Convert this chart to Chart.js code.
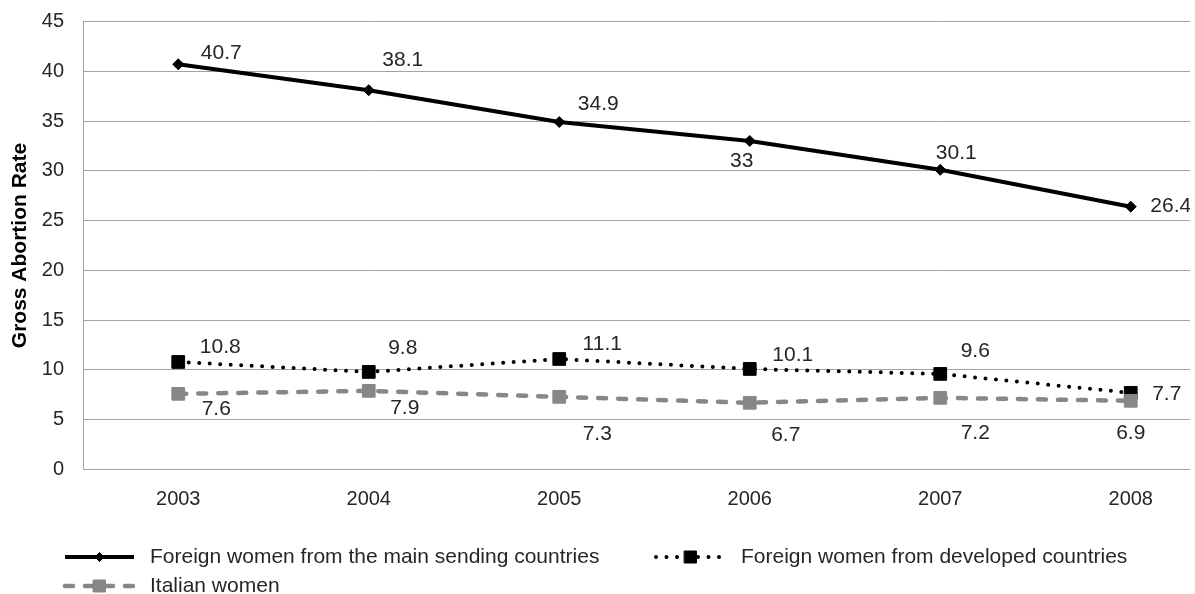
<!DOCTYPE html>
<html>
<head>
<meta charset="utf-8">
<script src="https://cdn.jsdelivr.net/npm/chart.js@4/dist/chart.umd.min.js"></script>
<style>
  html, body { margin: 0; padding: 0; background: #fff; overflow: hidden; }
  #wrap { width: 1190px; height: 594px; overflow: hidden; position: relative; }
  canvas { display: block; }
</style>
</head>
<body>
<div id="wrap"><canvas id="chart" width="1236" height="594"></canvas></div>
<script>
// Gross abortion rate by year and group of women
const years = ['2003', '2004', '2005', '2006', '2007', '2008'];
const sendingCountries = [40.7, 38.1, 34.9, 33, 30.1, 26.4];
const developedCountries = [10.8, 9.8, 11.1, 10.1, 9.6, 7.7];
const italianWomen = [7.6, 7.9, 7.3, 6.7, 7.2, 6.9];
const yTickValues = [0, 5, 10, 15, 20, 25, 30, 35, 40, 45];
const seriesNames = [
  'Foreign women from the main sending countries',
  'Foreign women from developed countries',
  'Italian women'
];
const axisTitle = 'Gross Abortion Rate';

const FONT = "'Liberation Sans', Arial, sans-serif";
const TEXT = '#262626';
const GRID = '#a3a3a3';

// where each value label sits relative to its point (dx, dy in px)
const labelOffsets = [
  [[43, -11], [34, -30], [39, -18], [-8, 20], [16, -17], [40, 0]],
  [[42, -15], [34, -24], [43, -15], [43, -14], [35, -23], [36, 1]],
  [[38, 15], [36, 17], [38, 37], [36, 32], [35, 35], [0, 32]]
];

const styles = [
  { color: '#000000', width: 4, dash: [], cap: 'butt', point: 'rectRot', radius: 5.5, legendRadius: 4.5 },
  { color: '#000000', width: 4, dash: [0, 10.5], cap: 'round', point: 'rect', radius: 9, legendRadius: 8.5 },
  { color: '#878787', width: 4.5, dash: [8, 12], cap: 'round', point: 'rect', radius: 9, legendRadius: 8.5 }
];

const valueLabels = {
  id: 'valueLabels',
  afterDatasetsDraw(chart) {
    const ctx = chart.ctx;
    ctx.save();
    ctx.font = '21px ' + FONT;
    ctx.fillStyle = TEXT;
    ctx.textAlign = 'center';
    ctx.textBaseline = 'middle';
    chart.data.datasets.forEach((ds, di) => {
      const meta = chart.getDatasetMeta(di);
      meta.data.forEach((pt, i) => {
        const off = labelOffsets[di][i];
        ctx.fillText(String(ds.data[i]), pt.x + off[0], pt.y + off[1]);
      });
    });
    ctx.restore();
  }
};

// legend with line samples, laid out in two rows under the plot
const sampleLegend = {
  id: 'sampleLegend',
  afterDraw(chart) {
    const ctx = chart.ctx;
    const entries = [
      { s: 0, x0: 65, x1: 134, tx: 150, y: 557 },
      { s: 1, x0: 656, x1: 725, tx: 741, y: 557 },
      { s: 2, x0: 65, x1: 134, tx: 150, y: 586 }
    ];
    ctx.save();
    entries.forEach(e => {
      const st = styles[e.s];
      ctx.beginPath();
      ctx.strokeStyle = st.color;
      ctx.lineWidth = st.width;
      ctx.lineCap = st.cap;
      ctx.setLineDash(st.dash);
      ctx.moveTo(e.x0, e.y);
      ctx.lineTo(e.x1, e.y);
      ctx.stroke();
      ctx.setLineDash([]);
      ctx.lineWidth = 1;
      Chart.helpers.drawPoint(ctx, {
        pointStyle: st.point, radius: st.legendRadius, borderWidth: 1, rotation: 0
      }, (e.x0 + e.x1) / 2, e.y);
      ctx.fillStyle = st.color;
      ctx.fill();
      ctx.font = '21px ' + FONT;
      ctx.fillStyle = TEXT;
      ctx.textAlign = 'left';
      ctx.textBaseline = 'middle';
      ctx.fillText(seriesNames[e.s], e.tx, e.y);
    });
    ctx.restore();
  }
};

const seriesData = [sendingCountries, developedCountries, italianWomen];
const drawOrder = [2, 1, 0];

new Chart(document.getElementById('chart'), {
  type: 'line',
  data: {
    labels: years,
    datasets: seriesData.map((d, i) => ({
      label: seriesNames[i],
      data: d,
      order: drawOrder[i],
      borderColor: styles[i].color,
      backgroundColor: styles[i].color,
      borderWidth: styles[i].width,
      borderDash: styles[i].dash,
      borderCapStyle: styles[i].cap,
      borderJoinStyle: 'round',
      pointStyle: styles[i].point,
      pointRadius: styles[i].radius,
      pointBorderWidth: 1,
      pointBackgroundColor: styles[i].color,
      pointBorderColor: styles[i].color,
      tension: 0,
      fill: false
    }))
  },
  options: {
    responsive: false,
    animation: false,
    events: [],
    layout: { padding: { top: 21.5, right: 0, bottom: 84.5, left: 0 } },
    plugins: { legend: { display: false }, tooltip: { enabled: false } },
    scales: {
      x: {
        type: 'category',
        offset: true,
        grid: { display: false },
        border: { display: true, color: GRID, width: 1 },
        ticks: { color: TEXT, font: { family: FONT, size: 20 }, padding: 10, maxRotation: 0 },
        afterFit(scale) {
          scale.height = 40;
          scale.paddingLeft = 0;
          scale.paddingRight = 0;
        }
      },
      y: {
        min: 0,
        max: 45,
        afterBuildTicks(scale) { scale.ticks = yTickValues.map(v => ({ value: v })); },
        grid: { color: GRID, lineWidth: 1, drawTicks: false },
        border: { display: true, color: GRID, width: 1 },
        ticks: { color: TEXT, font: { family: FONT, size: 20 }, padding: 19 },
        title: {
          display: true,
          text: axisTitle,
          color: '#000',
          font: { family: FONT, size: 21, weight: 'bold' },
          padding: { top: 8, bottom: 0 }
        },
        afterFit(scale) {
          scale.width = 83;
          scale.paddingTop = 0;
          scale.paddingBottom = 0;
        }
      }
    }
  },
  plugins: [valueLabels, sampleLegend]
});
</script>
</body>
</html>
